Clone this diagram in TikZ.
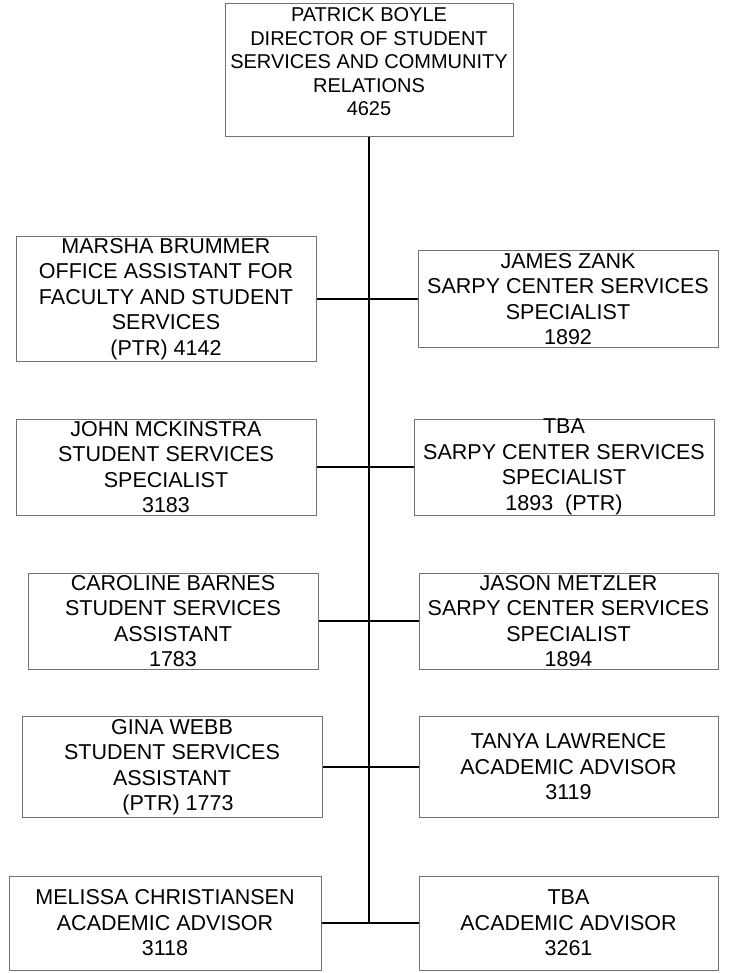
\documentclass[tikz,border=0pt]{standalone}
\usepackage{fontspec}
\setmainfont{Liberation Sans}
\usetikzlibrary{positioning}
\begin{document}
\begin{tikzpicture}[
    x=1pt, y=-1pt,
    staff/.style={rectangle, draw=black!55, line width=1pt, align=center,
      inner sep=0pt, minimum width=300pt, minimum height=96pt,
      font=\fontsize{21.5}{25.5}\selectfont},
    head/.style={staff, minimum width=288pt, minimum height=133pt,
      font=\fontsize{20}{23.5}\selectfont},
    link/.style={line width=1.4pt, draw=black},
  ]
    \useasboundingbox (0,0) rectangle (729,973);

    % Director at the top
    \node[head] (dir) at (369,70.5) {\begin{tabular}{@{}c@{}}PATRICK BOYLE\\DIRECTOR OF STUDENT\\SERVICES AND COMMUNITY\\RELATIONS\\4625\\[13pt]\end{tabular}};

    % Left column
    \node[staff, minimum height=124pt] (l1) at (166,299) {MARSHA BRUMMER\\OFFICE ASSISTANT FOR\\FACULTY AND STUDENT\\SERVICES\\(PTR) 4142};
    \node[staff] (l2) at (166,467) {JOHN MCKINSTRA\\STUDENT SERVICES\\SPECIALIST\\3183};
    \node[staff, minimum width=290pt] (l3) at (173,621) {CAROLINE BARNES\\STUDENT SERVICES\\ASSISTANT\\1783};
    \node[staff, minimum height=101pt] (l4) at (172,767) {GINA WEBB\\STUDENT SERVICES\\ASSISTANT\\\ \ (PTR) 1773};
    \node[staff, minimum width=312pt, minimum height=94pt] (l5) at (165,923) {MELISSA CHRISTIANSEN\\ACADEMIC ADVISOR\\3118};

    % Right column
    \node[staff] (r1) at (568,299) {JAMES ZANK\\SARPY CENTER SERVICES\\SPECIALIST\\1892};
    \node[staff] (r2) at (564,467) {TBA\\SARPY CENTER SERVICES\\SPECIALIST\\1893\ \ (PTR)};
    \node[staff, minimum width=299pt] (r3) at (568.5,621) {JASON METZLER\\SARPY CENTER SERVICES\\SPECIALIST\\1894};
    \node[staff, minimum width=299pt, minimum height=101pt] (r4) at (568.5,767) {TANYA LAWRENCE\\ACADEMIC ADVISOR\\3119};
    \node[staff, minimum width=299pt, minimum height=94pt] (r5) at (568.5,923) {TBA\\ACADEMIC ADVISOR\\3261};

    % Trunk and branches
    \coordinate (end) at (dir.south |- l5.east);
    \draw[link] (dir.south) -- (end);
    \draw[link] (l1.east) -- (r1.west);
    \draw[link] (l2.east) -- (r2.west);
    \draw[link] (l3.east) -- (r3.west);
    \draw[link] (l4.east) -- (r4.west);
    \draw[link] (l5.east) -- (r5.west);

\end{tikzpicture}
\end{document}
